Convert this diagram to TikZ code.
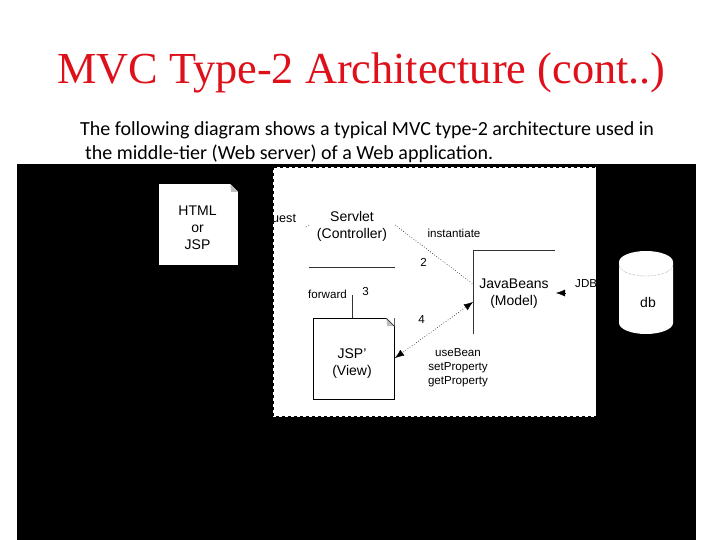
\documentclass[tikz,border=0pt]{standalone}
\usepackage{fontspec}
\setmainfont{Liberation Sans}
\newfontfamily\titlefont{Liberation Serif}
\newfontfamily\bodyfont{Carlito}
\usepackage{tikz}
\definecolor{titlered}{RGB}{222,16,26}
\usetikzlibrary{calc, arrows.meta}
\tikzset{
title/.style={anchor=base west, inner sep=0, text=titlered, font=\titlefont\fontsize{44.3}{50}\selectfont},
bodyline/.style={anchor=base west, inner sep=0, font=\bodyfont\fontsize{20}{24}\selectfont},
label/.style={align=center, inner sep=0, font=\fontsize{14}{17}\selectfont},
small/.style={align=center, inner sep=0, font=\fontsize{11.6}{14}\selectfont},
doc/.style={fill=white, minimum width=#1, minimum height=81, inner sep=0},
flow/.style={dotted, line width=0.6pt},
solid line/.style={line width=0.6pt, black!80},
head/.style={{Latex[length=9pt, width=7pt]}-}
}
\newcommand{\docfold}[2]{
	\fill[#2] ($(#1.north east)+(-8,0)$) -- (#1.north east) -- ($(#1.north east)+(0,8)$) -- cycle;
	\fill[black!25] ($(#1.north east)+(-8,0)$) -- ($(#1.north east)+(0,8)$) -- ($(#1.north east)+(-7,8)$) -- cycle;
}

\begin{document}
\begin{tikzpicture}[x=1pt, y=-1pt]
	\useasboundingbox (0,0) rectangle (720,540);
	\fill[white] (0,0) rectangle (720,540);
	\fill[black] (17,164) rectangle (696,540);
	\fill[white] (273,167) rectangle (596,417);
	\draw[black, dashed, line width=0.4pt] (273,167) rectangle (596,416);
	% ----
	\node[title] (heading) at (57,84) {MVC Type-2 Architecture (cont..)};
	\node[bodyline] (line1) at (80,135.500) {The following diagram shows a typical MVC type-2 architecture used in};
	\node[bodyline] (line2) at (85,160) {the middle-tier (Web server) of a Web application.};
	% ----
	\node[doc=79] (html) at (198.500,224.500) {};
	\node[doc=81, draw, line width=0.6pt] (jsp) at (353.500,359) {};
	\docfold{html}{black}
	\docfold{jsp}{white}
	\draw[solid line] ($(jsp.north east)+(-8,0)$) -- ($(jsp.north east)+(0,8)$);
	\node[label] (htmltext) at (197.500,228) {HTML\\or\\JSP};
	\node[label] (jsptext) at (352,363.500) {JSP'\\(View)};
	% ----
	\node[label] (servlet) at (352,226) {Servlet\\(Controller)};
	\node[label] (beans) at (514,294) {JavaBeans\\(Model)};
	\node[small, anchor=west, font=\fontsize{12.6}{14}\selectfont] (request) at (272,218) {uest};
	\node[small] (inst) at (454,233) {instantiate};
	\node[small] (two) at (423.500,262) {2};
	\node[small] (forward) at (327.500,294) {forward};
	\node[small] (three) at (365.500,292) {3};
	\node[small] (four) at (421.500,320) {4};
	\node[small] (props) at (458,368) {useBean\\setProperty\\getProperty};
	\node[small, anchor=west] (jdb) at (575,284) {JDB};
	% ----
	\coordinate (ctlS) at (309,267);
	\coordinate (ctlE) at (395,267);
	\coordinate (ctlF) at (352.500,295);
	\coordinate (ctlT) at (395,225);
	\coordinate (ctlR) at (309,225);
	\coordinate (reqE) at (305,228);
	\coordinate (mdlA) at (473,284);
	\coordinate (mdlB) at (473,302);
	\coordinate (mdlT) at (473,250);
	\coordinate (mdlL) at (473,334);
	\coordinate (mdlR) at (555,250);
	\coordinate (jspE) at (395,358);
	\coordinate (dbcS) at (565,293);
	\coordinate (dbcE) at (556,293);
	% ----
	\draw[solid line] (ctlS) -- (ctlE);
	\draw[solid line] (ctlF) -- (jsp.north -| ctlF);
	\draw[solid line] (mdlL) -- (mdlT) -- (mdlR);
	\draw[flow] (ctlT) -- (mdlA);
	\draw[flow] (ctlR) -- (reqE);
	\draw[flow] (jspE) -- (mdlB);
	\draw[head] (jspE) -- ($(jspE)!9pt!(mdlB)$);
	\draw[head] (mdlB) -- ($(mdlB)!9pt!(jspE)$);
	\draw[head] (dbcE) -- (dbcS);
	% ----
	\path[fill=white] (619,262) -- (619,323) arc[start angle=180, end angle=360, x radius=27, y radius=-11] -- (673,262) arc[start angle=0, end angle=180, x radius=27, y radius=-11] -- cycle;
	\draw[black!60, densely dotted, line width=0.4pt] (619,265) arc[start angle=180, end angle=360, x radius=27, y radius=-11];
	\node[label] (db) at (648,302) {db};
\end{tikzpicture}
\end{document}
